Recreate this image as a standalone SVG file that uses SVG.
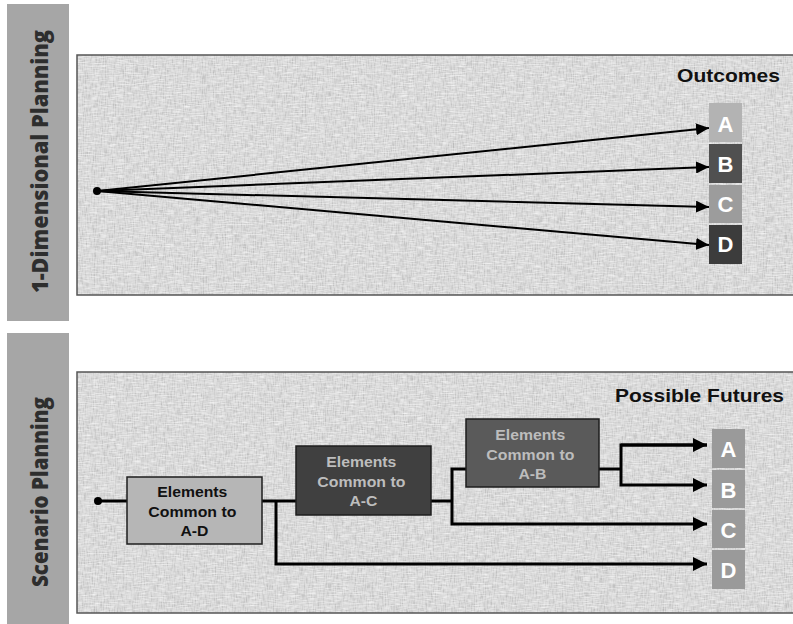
<svg xmlns="http://www.w3.org/2000/svg" width="793" height="624" viewBox="0 0 793 624">
  <style>
    .band { fill: #a6a6a6; }
    .band-label { font-family: "Open Sans", "Liberation Sans", sans-serif; font-weight: 800; font-size: 22px; fill: #2e2e2e; }
    .panel { fill: #d8d8d8; }
    .panel-edge { fill: none; stroke: #555555; stroke-width: 1.5; }
    .title { font-family: "Liberation Sans", Arial, sans-serif; font-weight: bold; font-size: 19px; fill: #111111; }
    .outcome-letter { font-family: "Liberation Sans", Arial, sans-serif; font-weight: bold; font-size: 22px; fill: #ffffff; text-anchor: middle; }
    .box { stroke: #1e1e1e; stroke-width: 1.5; }
    .box-text { font-family: "Liberation Sans", Arial, sans-serif; font-weight: bold; font-size: 15.5px; text-anchor: middle; }
    .thin { fill: none; stroke: #000000; stroke-width: 2; }
    .thick { fill: none; stroke: #000000; stroke-width: 3; stroke-linejoin: miter; }
  </style>
  <defs>
    <!-- fine woven canvas grain laid over the panel fill -->
    <filter id="grain" x="0" y="0" width="1" height="1" color-interpolation-filters="sRGB">
      <feTurbulence type="fractalNoise" baseFrequency="0.12 0.9" numOctaves="2" seed="4" result="rows"/>
      <feColorMatrix in="rows" type="matrix" values="0 0 0 0 1  0 0 0 0 1  0 0 0 0 1  1.3 0 0 0 -0.5" result="light"/>
      <feTurbulence type="fractalNoise" baseFrequency="0.9 0.12" numOctaves="2" seed="9" result="cols"/>
      <feColorMatrix in="cols" type="matrix" values="0 0 0 0 0.55  0 0 0 0 0.55  0 0 0 0 0.55  0.85 0 0 0 -0.37" result="dark"/>
      <feMerge result="weave">
        <feMergeNode in="dark"/>
        <feMergeNode in="light"/>
      </feMerge>
      <feComposite in="weave" in2="SourceGraphic" operator="in"/>
    </filter>
    <marker id="head" markerUnits="userSpaceOnUse" markerWidth="14" markerHeight="12" refX="13" refY="6" orient="auto">
      <path d="M0,0 L13,6 L0,12 z" fill="#000000"/>
    </marker>
    <marker id="head-lg" markerUnits="userSpaceOnUse" markerWidth="15" markerHeight="14" refX="14" refY="7" orient="auto">
      <path d="M0,0 L14,7 L0,14 z" fill="#000000"/>
    </marker>
  </defs>

  <!-- side bands -->
  <g id="band-1d">
    <rect class="band" x="7" y="4" width="62" height="317"/>
    <text class="band-label" transform="translate(48,293) rotate(-90)" textLength="263" lengthAdjust="spacingAndGlyphs">1-Dimensional Planning</text>
  </g>
  <g id="band-scenario">
    <rect class="band" x="7" y="333" width="62" height="291"/>
    <text class="band-label" transform="translate(48,587) rotate(-90)" textLength="190" lengthAdjust="spacingAndGlyphs">Scenario Planning</text>
  </g>

  <!-- panels -->
  <g id="panel-1d">
    <rect class="panel" x="77" y="55" width="720" height="240"/>
    <rect x="77" y="55" width="720" height="240" fill="#d8d8d8" filter="url(#grain)"/>
    <path class="panel-edge" d="M797,55 H77 V295 H797"/>
    <text class="title" x="677" y="82" textLength="103" lengthAdjust="spacingAndGlyphs">Outcomes</text>
  </g>
  <g id="panel-scenario">
    <rect class="panel" x="77" y="372" width="720" height="241"/>
    <rect x="77" y="372" width="720" height="241" fill="#d8d8d8" filter="url(#grain)"/>
    <path class="panel-edge" d="M797,372 H77 V613 H797"/>
    <text class="title" x="615" y="402" textLength="169" lengthAdjust="spacingAndGlyphs">Possible Futures</text>
  </g>

  <!-- connectors -->
  <g id="connectors">
    <circle cx="97" cy="191" r="4" fill="#000000"/>
    <line class="thin" x1="97" y1="191" x2="709" y2="128" marker-end="url(#head)"/>
    <line class="thin" x1="97" y1="191" x2="709" y2="167" marker-end="url(#head)"/>
    <line class="thin" x1="97" y1="191" x2="709" y2="207" stroke-width="2.6" marker-end="url(#head)"/>
    <line class="thin" x1="97" y1="191" x2="709" y2="245" marker-end="url(#head)"/>

    <circle cx="98" cy="501" r="4" fill="#000000"/>
    <path class="thick" d="M98,501 H296"/>
    <path class="thick" d="M276,501 V564 H707" marker-end="url(#head-lg)"/>
    <path class="thick" d="M431,501 H452"/>
    <path class="thick" d="M466,469 H452 V524 H707" marker-end="url(#head-lg)"/>
    <path class="thick" d="M599,469 H621"/>
    <path class="thick" d="M707,445 H621 V485 H707" marker-end="url(#head-lg)"/>
    <path class="thick" d="M621,445 H707" marker-end="url(#head-lg)"/>
  </g>

  <!-- outcome tiles, one-dimensional -->
  <g id="outcome-1d-a">
    <rect x="709" y="103" width="33" height="39" fill="#b3b3b3"/>
    <text class="outcome-letter" x="725.5" y="132">A</text>
  </g>
  <g id="outcome-1d-b">
    <rect x="709" y="144" width="33" height="39" fill="#505050"/>
    <text class="outcome-letter" x="725.5" y="172">B</text>
  </g>
  <g id="outcome-1d-c">
    <rect x="709" y="185" width="33" height="38" fill="#9c9c9c"/>
    <text class="outcome-letter" x="725.5" y="212">C</text>
  </g>
  <g id="outcome-1d-d">
    <rect x="709" y="225" width="33" height="39" fill="#3c3c3c"/>
    <text class="outcome-letter" x="725.5" y="252">D</text>
  </g>

  <!-- element boxes -->
  <g id="common-a-d">
    <rect class="box" x="127" y="477" width="135" height="67" fill="#b6b6b6"/>
    <text class="box-text" fill="#111111">
      <tspan x="194.5" y="497" textLength="70" lengthAdjust="spacingAndGlyphs">Elements</tspan>
      <tspan x="194.5" y="517" textLength="88" lengthAdjust="spacingAndGlyphs">Common to</tspan>
      <tspan x="194.5" y="536" textLength="28" lengthAdjust="spacingAndGlyphs">A-D</tspan>
    </text>
  </g>
  <g id="common-a-c">
    <rect class="box" x="296" y="446" width="135" height="69" fill="#404040"/>
    <text class="box-text" fill="#bdbdbd">
      <tspan x="363.5" y="467" textLength="70" lengthAdjust="spacingAndGlyphs">Elements</tspan>
      <tspan x="363.5" y="487" textLength="88" lengthAdjust="spacingAndGlyphs">Common to</tspan>
      <tspan x="363.5" y="506" textLength="28" lengthAdjust="spacingAndGlyphs">A-C</tspan>
    </text>
  </g>
  <g id="common-a-b">
    <rect class="box" x="466" y="419" width="133" height="68" fill="#5a5a5a"/>
    <text class="box-text" fill="#bdbdbd">
      <tspan x="532.5" y="440" textLength="70" lengthAdjust="spacingAndGlyphs">Elements</tspan>
      <tspan x="532.5" y="460" textLength="88" lengthAdjust="spacingAndGlyphs">Common to</tspan>
      <tspan x="532.5" y="479" textLength="28" lengthAdjust="spacingAndGlyphs">A-B</tspan>
    </text>
  </g>

  <!-- outcome tiles, scenario -->
  <g id="future-a">
    <rect x="712" y="429" width="33" height="39" fill="#9a9a9a"/>
    <text class="outcome-letter" x="728.5" y="457" font-size="21">A</text>
  </g>
  <g id="future-b">
    <rect x="712" y="470" width="33" height="38" fill="#9a9a9a"/>
    <text class="outcome-letter" x="728.5" y="498" font-size="21">B</text>
  </g>
  <g id="future-c">
    <rect x="712" y="510" width="33" height="38" fill="#9a9a9a"/>
    <text class="outcome-letter" x="728.5" y="538" font-size="21">C</text>
  </g>
  <g id="future-d">
    <rect x="712" y="550" width="33" height="39" fill="#9a9a9a"/>
    <text class="outcome-letter" x="728.5" y="578" font-size="21">D</text>
  </g>
</svg>
